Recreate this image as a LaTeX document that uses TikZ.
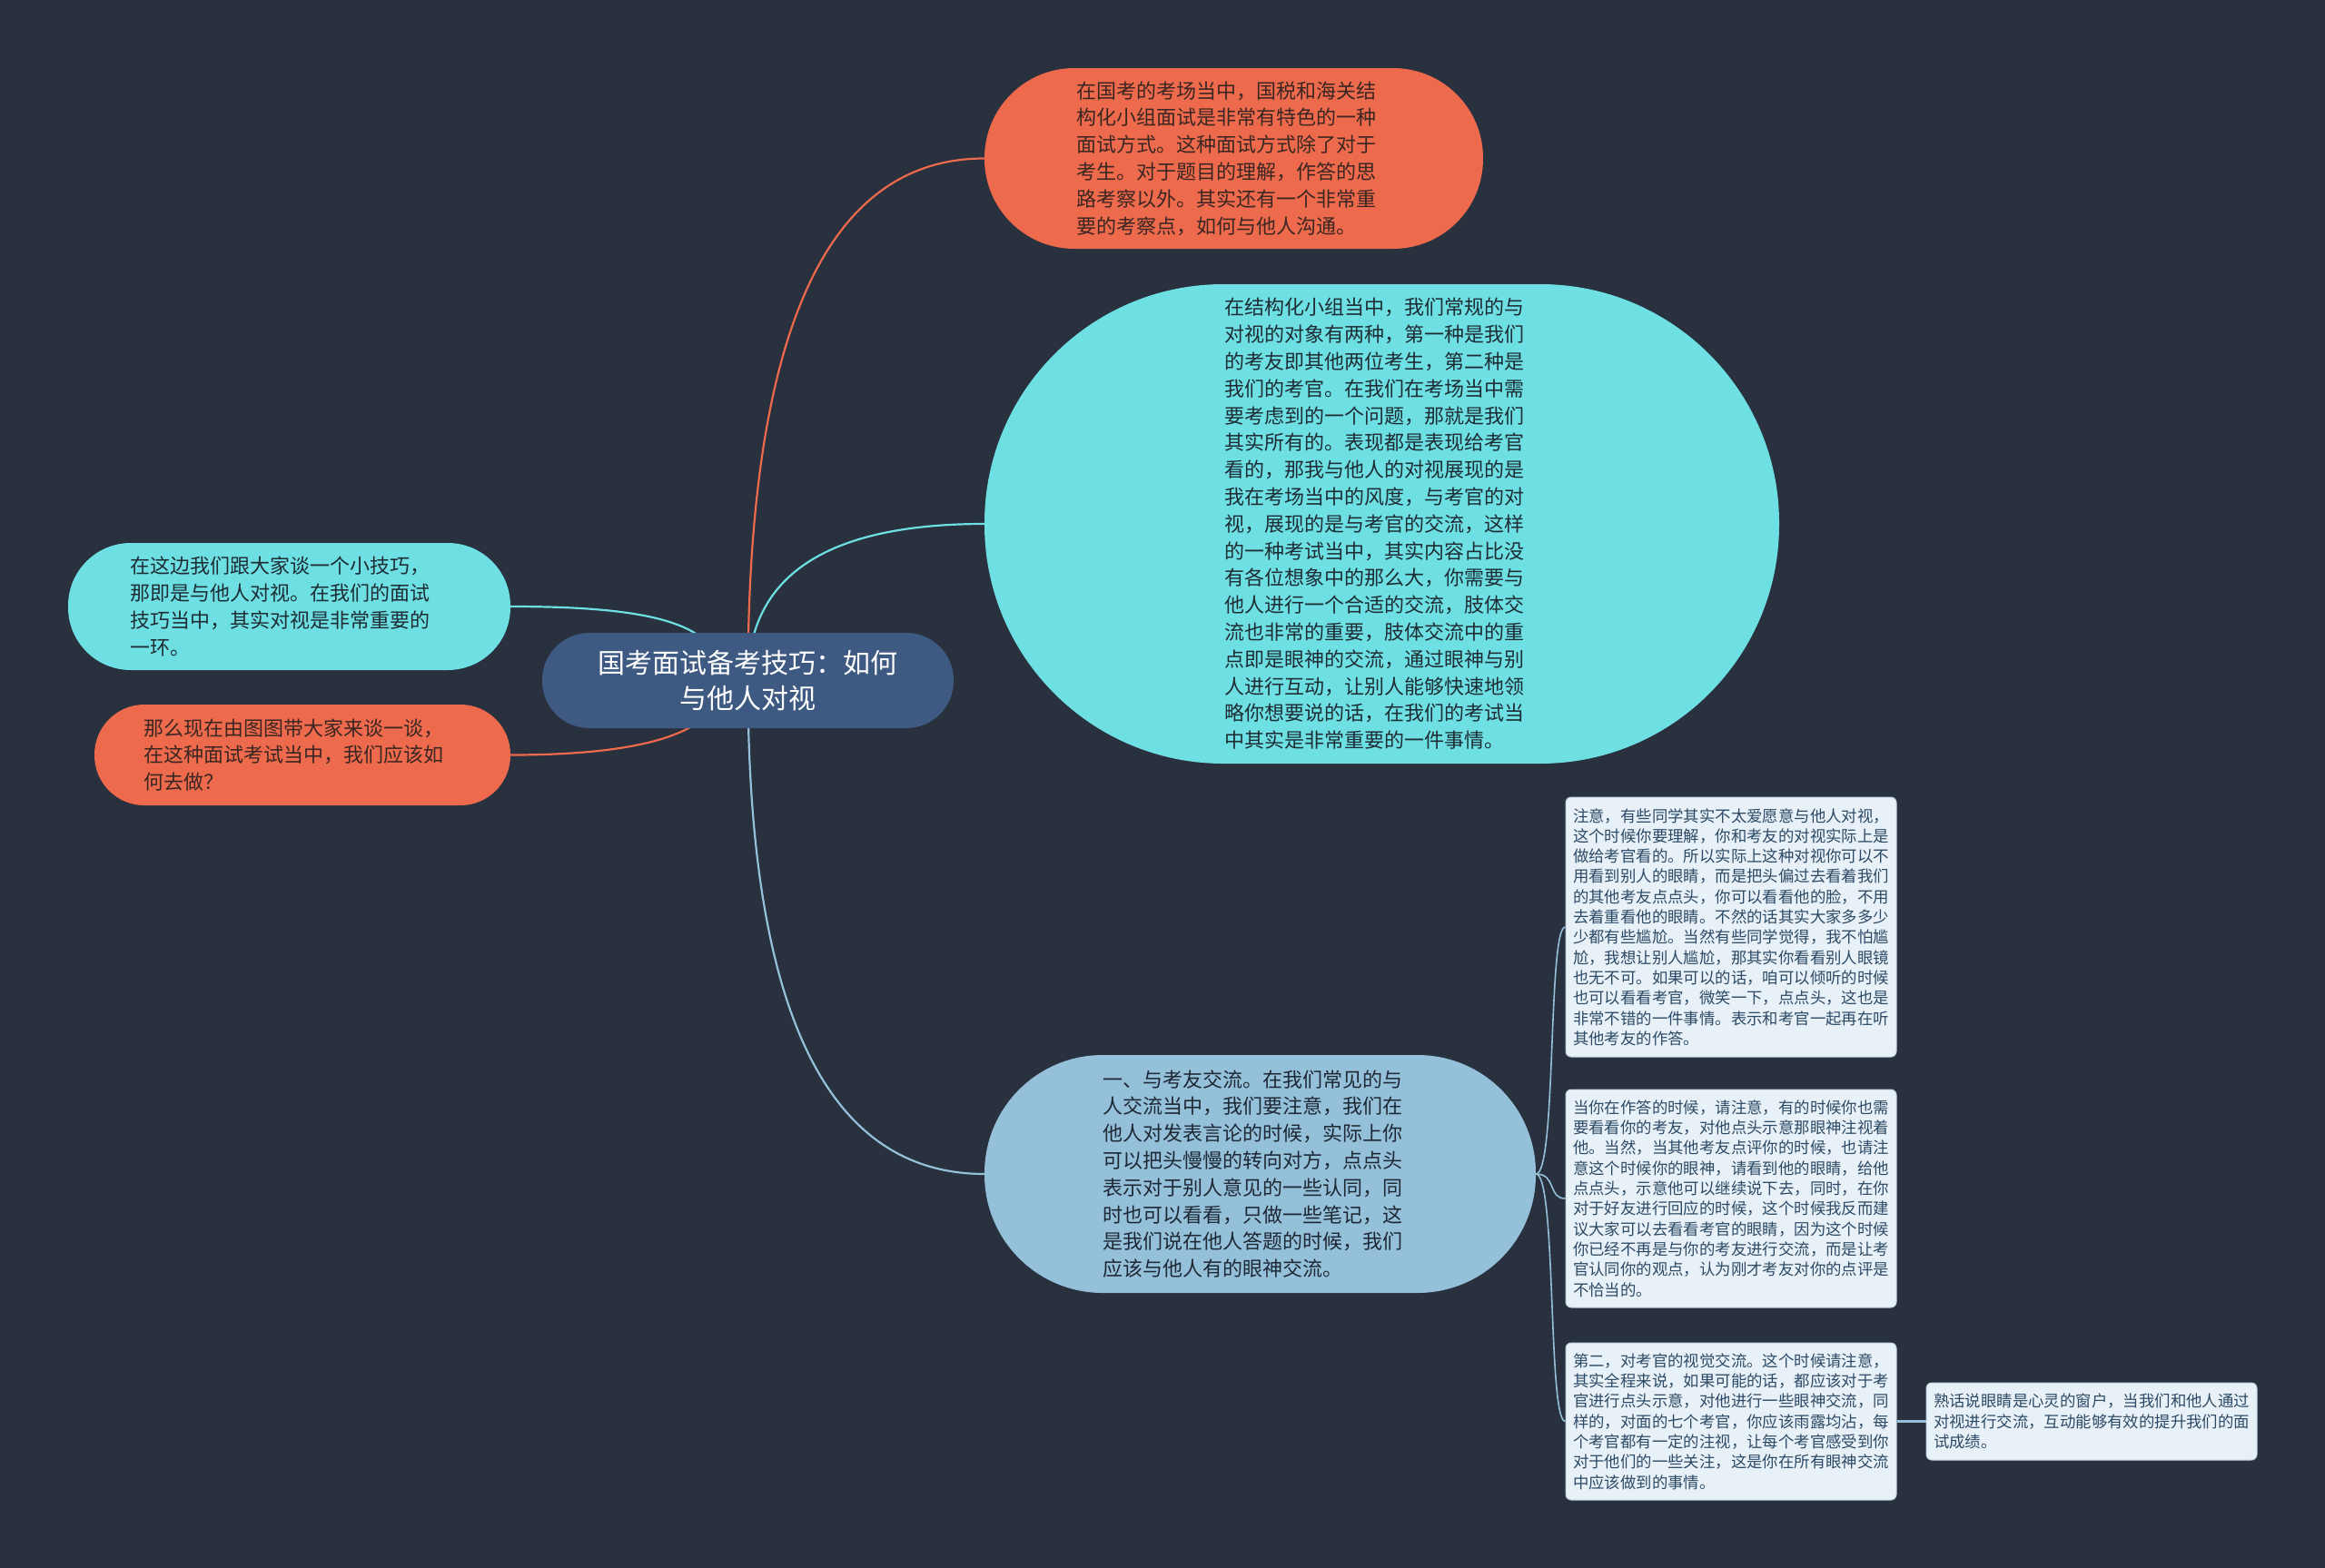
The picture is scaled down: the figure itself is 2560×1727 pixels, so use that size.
\documentclass[tikz,border=0pt]{standalone}
\usepackage{fontspec}
\newfontfamily\cjk{Noto Sans CJK SC}
\pgfdeclarelayer{back}
\pgfdeclarelayer{bg}
\pgfsetlayers{back,bg,main}
\definecolor{bgc}{RGB}{41,48,62}
\definecolor{rootc}{RGB}{62,90,130}
\definecolor{orc}{RGB}{238,106,76}
\definecolor{cyc}{RGB}{110,224,228}
\definecolor{blc}{RGB}{149,192,218}
\definecolor{boxc}{RGB}{233,241,248}
\definecolor{boxd}{RGB}{190,210,224}
\definecolor{boxt}{RGB}{44,74,102}
\definecolor{ort}{RGB}{58,38,34}
\definecolor{cyt}{RGB}{30,44,52}
\definecolor{blt}{RGB}{30,40,52}
\begin{document}
\begin{tikzpicture}[x=1pt,y=-1pt,
  pill/.style={rectangle,inner sep=0pt},
  ptext/.style={align=left,inner sep=0pt,font={\cjk\fontsize{22pt}{29.8pt}\selectfont}},
  smalltext/.style={font={\cjk\fontsize{17.4pt}{22.3pt}\selectfont}},
  leaf/.style={rectangle,rounded corners=6pt,fill=boxc,draw=boxd,line width=1pt,
    text=boxt,align=left,inner sep=0pt,smalltext},
  conn/.style={line width=2.2pt},
]
\useasboundingbox (0,0) rectangle (2560,1727);
\begin{pgfonlayer}{back}
\fill[bgc] (0,0) rectangle (2560,1727);
\end{pgfonlayer}

% root
\node[pill,fill=rootc,text=white,rounded corners=52pt,minimum width=453pt,minimum height=105pt,
  align=center,font={\cjk\fontsize{30pt}{39pt}\selectfont}] (root) at (823.5,749.5)
  {国考面试备考技巧：如何\\与他人对视};

% top orange
\node[pill,fill=orc,rounded corners=99pt,minimum width=549pt,minimum height=199pt] (top) at (1358.5,174.5) {};
\node[ptext,text=ort] (topT) at ([xshift=-8pt]top.center)
  {在国考的考场当中，国税和海关结\\构化小组面试是非常有特色的一种\\面试方式。这种面试方式除了对于\\考生。对于题目的理解，作答的思\\路考察以外。其实还有一个非常重\\要的考察点，如何与他人沟通。};

% big cyan
\node[pill,fill=cyc,rounded corners=263pt,minimum width=875pt,minimum height=528pt] (big) at (1521.5,577) {};
\node[ptext,text=cyt] (bigT) at ([xshift=-8pt]big.center)
  {在结构化小组当中，我们常规的与\\对视的对象有两种，第一种是我们\\的考友即其他两位考生，第二种是\\我们的考官。在我们在考场当中需\\要考虑到的一个问题，那就是我们\\其实所有的。表现都是表现给考官\\看的，那我与他人的对视展现的是\\我在考场当中的风度，与考官的对\\视，展现的是与考官的交流，这样\\的一种考试当中，其实内容占比没\\有各位想象中的那么大，你需要与\\他人进行一个合适的交流，肢体交\\流也非常的重要，肢体交流中的重\\点即是眼神的交流，通过眼神与别\\人进行互动，让别人能够快速地领\\略你想要说的话，在我们的考试当\\中其实是非常重要的一件事情。};

% left cyan
\node[pill,fill=cyc,rounded corners=69pt,minimum width=487pt,minimum height=140pt] (lcy) at (318.5,668) {};
\node[ptext,text=cyt] (lcyT) at ([xshift=-10pt]lcy.center)
  {在这边我们跟大家谈一个小技巧，\\那即是与他人对视。在我们的面试\\技巧当中，其实对视是非常重要的\\一环。};

% left orange
\node[pill,fill=orc,rounded corners=55pt,minimum width=458pt,minimum height=111pt] (lor) at (333,831.5) {};
\node[ptext,text=ort] (lorT) at ([xshift=-10pt]lor.center)
  {那么现在由图图带大家来谈一谈，\\在这种面试考试当中，我们应该如\\何去做？};

% lower blue
\node[pill,fill=blc,rounded corners=130pt,minimum width=607pt,minimum height=262pt] (low) at (1387.5,1293) {};
\node[ptext,text=blt] (lowT) at ([xshift=-8pt]low.center)
  {一、与考友交流。在我们常见的与\\人交流当中，我们要注意，我们在\\他人对发表言论的时候，实际上你\\可以把头慢慢的转向对方，点点头\\表示对于别人意见的一些认同，同\\时也可以看看，只做一些笔记，这\\是我们说在他人答题的时候，我们\\应该与他人有的眼神交流。};

% leaf boxes
\node[leaf,minimum width=364pt,minimum height=286pt] (ba) at (1906,1021)
  {注意，有些同学其实不太爱愿意与他人对视，\\这个时候你要理解，你和考友的对视实际上是\\做给考官看的。所以实际上这种对视你可以不\\用看到别人的眼睛，而是把头偏过去看着我们\\的其他考友点点头，你可以看看他的脸，不用\\去着重看他的眼睛。不然的话其实大家多多少\\少都有些尴尬。当然有些同学觉得，我不怕尴\\尬，我想让别人尴尬，那其实你看看别人眼镜\\也无不可。如果可以的话，咱可以倾听的时候\\也可以看看考官，微笑一下，点点头，这也是\\非常不错的一件事情。表示和考官一起再在听\\其他考友的作答。};

\node[leaf,minimum width=364pt,minimum height=240pt] (bb) at (1906,1320)
  {当你在作答的时候，请注意，有的时候你也需\\要看看你的考友，对他点头示意那眼神注视着\\他。当然，当其他考友点评你的时候，也请注\\意这个时候你的眼神，请看到他的眼睛，给他\\点点头，示意他可以继续说下去，同时，在你\\对于好友进行回应的时候，这个时候我反而建\\议大家可以去看看考官的眼睛，因为这个时候\\你已经不再是与你的考友进行交流，而是让考\\官认同你的观点，认为刚才考友对你的点评是\\不恰当的。};

\node[leaf,minimum width=364pt,minimum height=173pt] (bc) at (1906,1565.5)
  {第二，对考官的视觉交流。这个时候请注意，\\其实全程来说，如果可能的话，都应该对于考\\官进行点头示意，对他进行一些眼神交流，同\\样的，对面的七个考官，你应该雨露均沾，每\\个考官都有一定的注视，让每个考官感受到你\\对于他们的一些关注，这是你在所有眼神交流\\中应该做到的事情。};

\node[leaf,minimum width=364pt,minimum height=85pt] (bd) at (2303,1565.5)
  {熟话说眼睛是心灵的窗户，当我们和他人通过\\对视进行交流，互动能够有效的提升我们的面\\试成绩。};

\coordinate (rootL) at (795,749.5);

\begin{pgfonlayer}{bg}
\draw[conn,orc] (root.center) .. controls (823.5,366) and (910,174.5) .. (top.west);
\draw[conn,cyc] (root.center) .. controls (823.5,634) and (910,577) .. (big.west);
\draw[conn,blc] (root.center) .. controls (823.5,1112) and (910,1293) .. (low.west);
\draw[conn,cyc] (lcy.east) .. controls (730,668) and (795,690) .. (rootL);
\draw[conn,orc] (lor.east) .. controls (730,831.5) and (795,800) .. (rootL);
\draw[line width=1.6pt,blc] (low.east) .. controls (1714,1293) and (1704,1021) .. (ba.west);
\draw[line width=1.6pt,blc] (low.east) .. controls (1714,1293) and (1704,1320) .. (bb.west);
\draw[line width=1.6pt,blc] (low.east) .. controls (1714,1293) and (1704,1565.5) .. (bc.west);
\draw[line width=3pt,blc] (bc.east) -- (bd.west);
\end{pgfonlayer}
\end{tikzpicture}
\end{document}
